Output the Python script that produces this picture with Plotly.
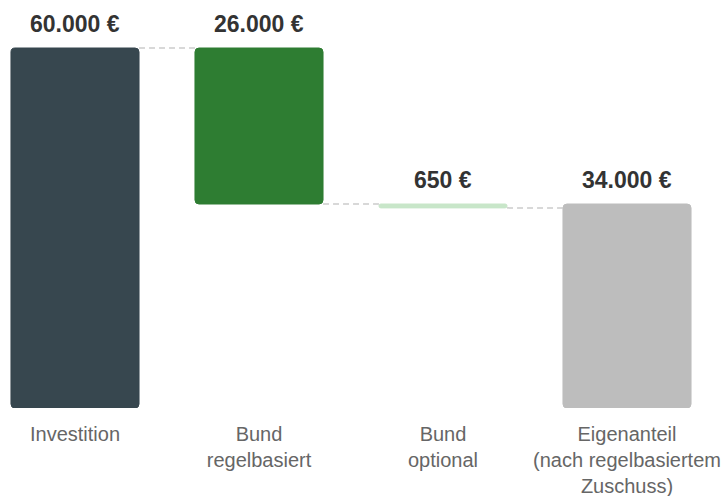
import plotly.graph_objects as go

categories = ["Investition", "Bund<br>regelbasiert", "Bund<br>optional",
              "Eigenanteil<br>(nach regelbasiertem<br>Zuschuss)"]
values = [60000, 26000, 650, 34000]
kinds = ["absolute", "relative", "relative", "absolute"]
labels = ["60.000 €", "26.000 €", "650 €", "34.000 €"]
colors = ["#37474f", "#2e7d32", "#c8e6c9", "#bdbdbd"]

# compute bases / running totals
bases, tops, ends = [], [], []
running = 0
for v, k in zip(values, kinds):
    if k == "absolute":
        b = 0
        running = v
        tops.append(v)
        ends.append(v)
    else:
        b = running - v
        tops.append(running)
        running = running - v
        ends.append(running)
    bases.append(b)

xs = list(range(len(categories)))
W = 0.696

fig = go.Figure()
fig.add_trace(go.Bar(
    x=xs, y=values, base=bases, width=W,
    marker=dict(color=colors, line=dict(color=colors, width=1)),
    hoverinfo="skip", showlegend=False,
))

# connectors
for i in range(len(xs) - 1):
    fig.add_trace(go.Scatter(
        x=[xs[i] + W / 2, xs[i + 1] - W / 2], y=[ends[i], ends[i]],
        mode="lines", line=dict(color="#cccccc", width=1.5, dash="6px,4px"),
        hoverinfo="skip", showlegend=False,
    ))

for i, t in enumerate(labels):
    fig.add_annotation(x=xs[i], y=tops[i], text=f"<b>{t}</b>", showarrow=False,
                       yanchor="bottom", yshift=9,
                       font=dict(family="Liberation Sans, Arial", size=23, color="#333333"))

fig.update_layout(
    width=723, height=496,
    margin=dict(l=0, r=0, t=0, b=88, autoexpand=False),
    paper_bgcolor="white", plot_bgcolor="white",
    barcornerradius=4,
    xaxis=dict(range=[-0.4076, 3.5217], tickvals=xs, ticktext=categories,
               showgrid=False, zeroline=False, showline=False,
               ticks="outside", ticklen=8, tickcolor="rgba(0,0,0,0)",
               tickfont=dict(family="Liberation Sans, Arial", size=20, color="#666666"),
               automargin=False),
    yaxis=dict(range=[0, 68000], visible=False, showgrid=False, zeroline=False),
)

fig.write_html("out.html", config={"displayModeBar": False, "staticPlot": True})
with open("out.html", encoding="utf-8") as f:
    html = f.read()
html = html.replace("<body>", '<body style="margin:0;padding:0;overflow:hidden">', 1)
with open("out.html", "w", encoding="utf-8") as f:
    f.write(html)
